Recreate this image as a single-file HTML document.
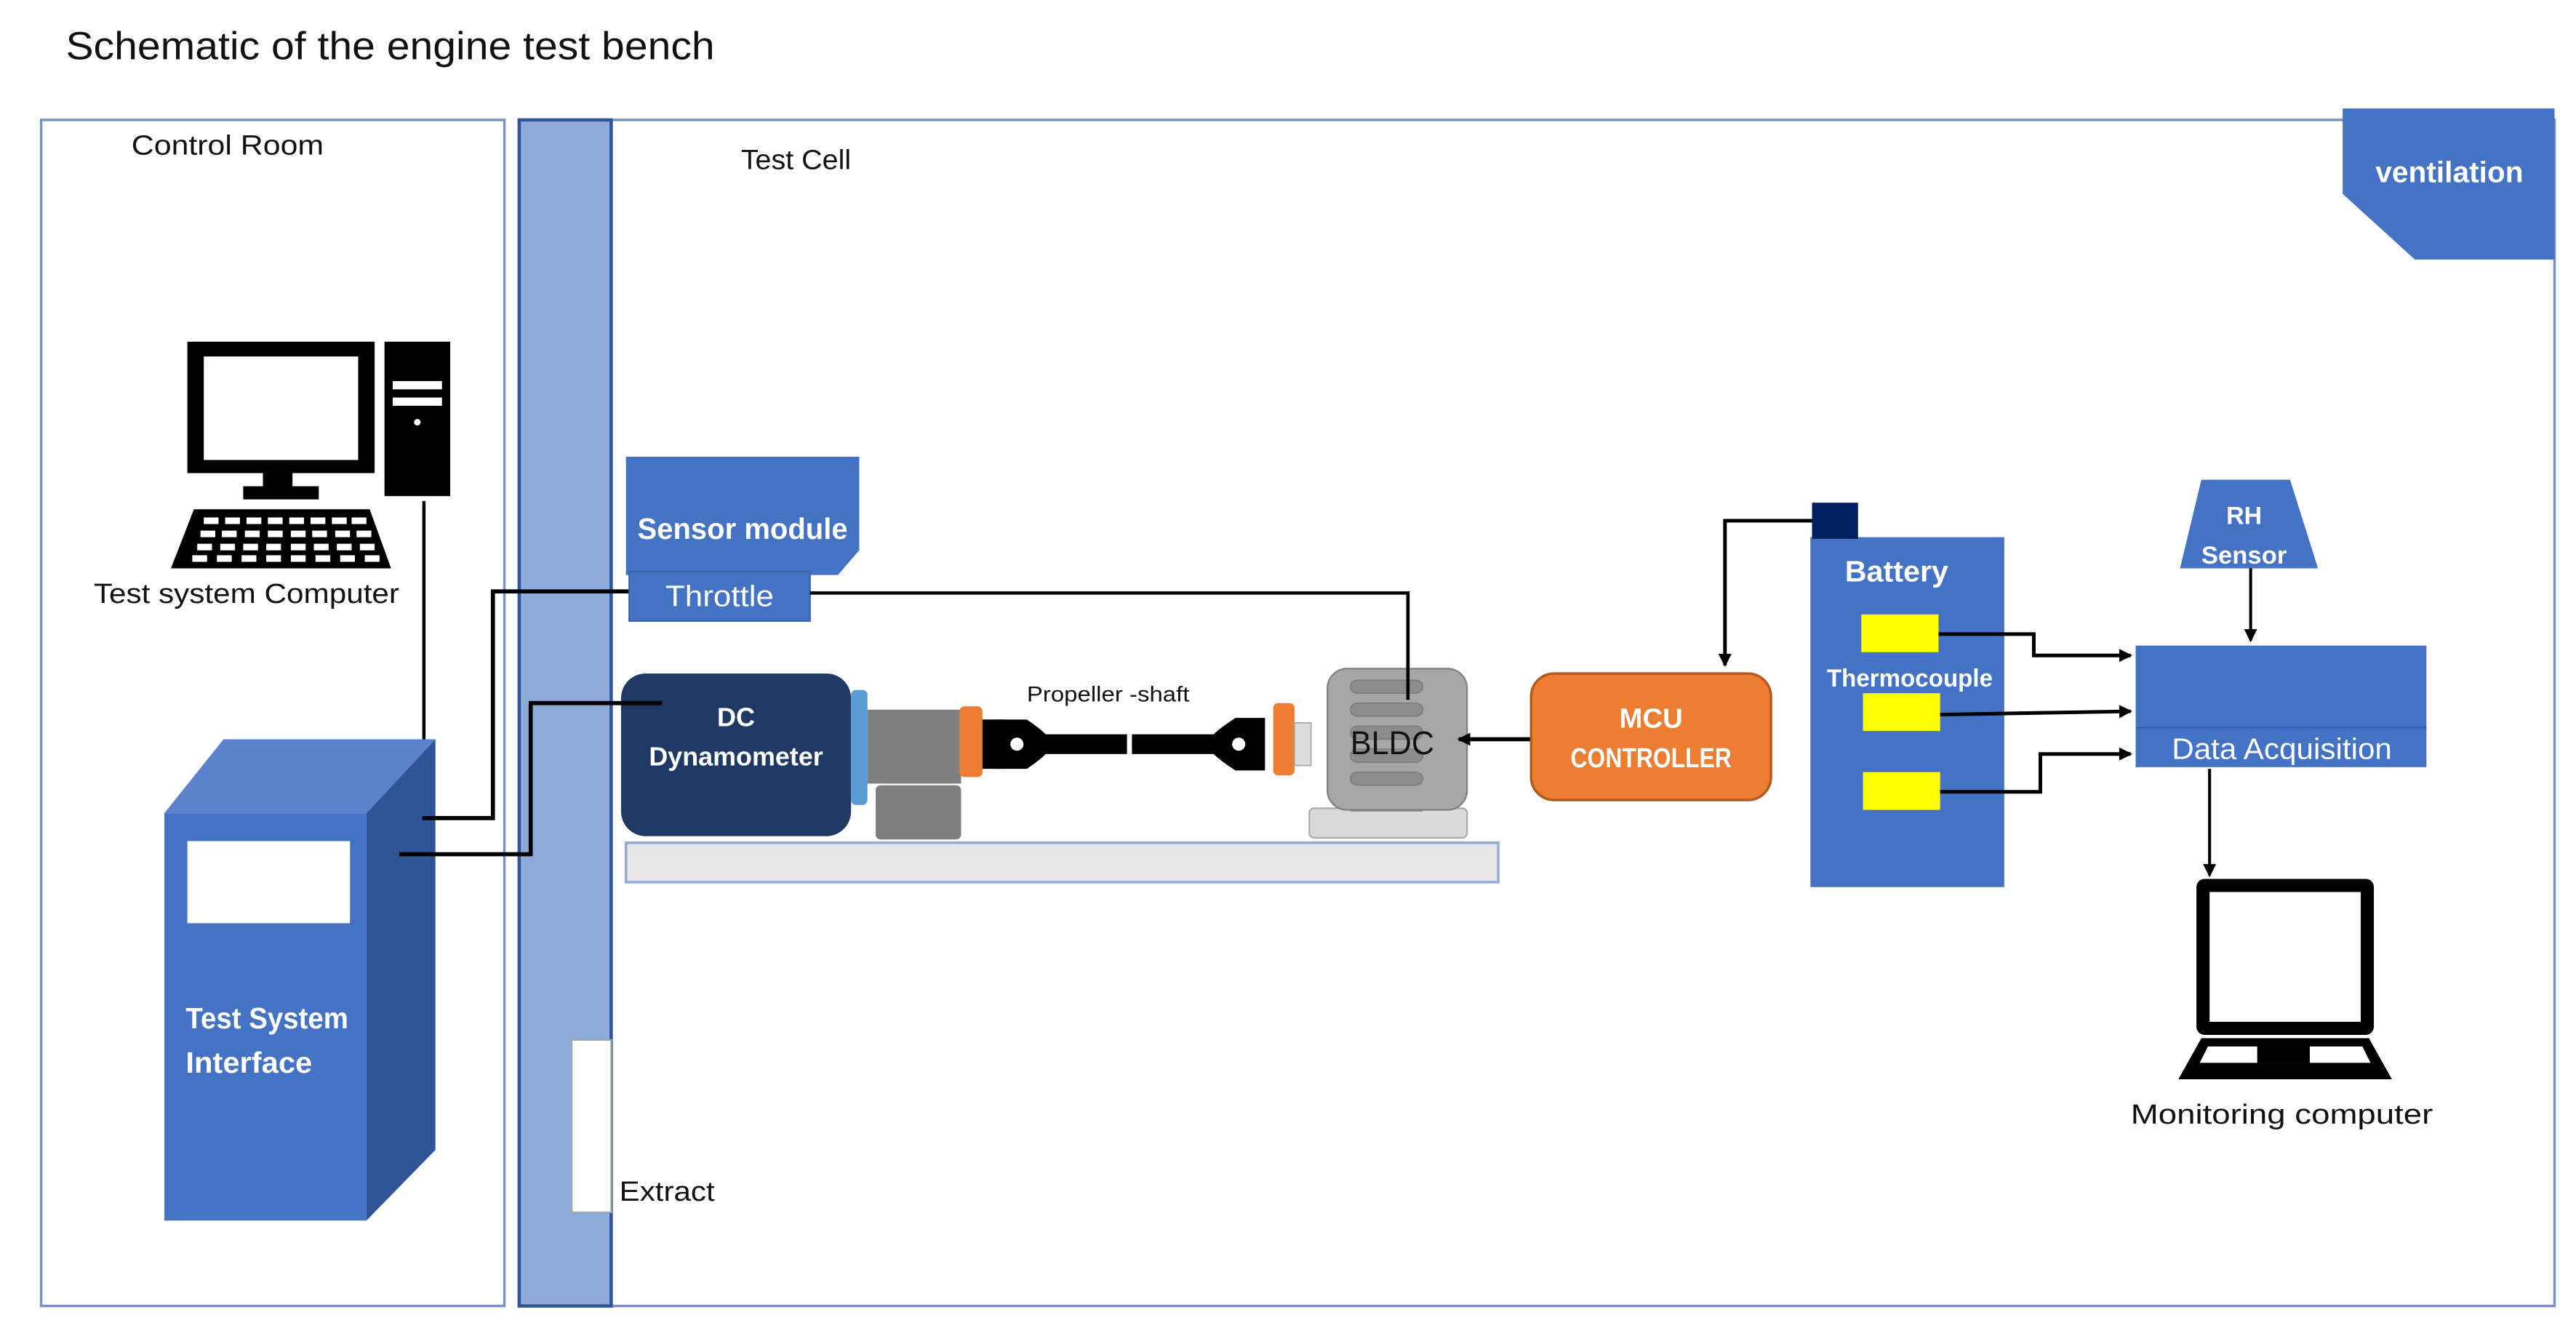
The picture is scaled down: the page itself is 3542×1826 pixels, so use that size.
<!DOCTYPE html>
<html><head><meta charset="utf-8"><style>
html,body{margin:0;padding:0;background:#fff;}
svg{display:block;}
text{font-family:"Liberation Sans",sans-serif;}
</style></head><body>
<svg width="3542" height="1826" viewBox="0 0 1568 808.4" xmlns="http://www.w3.org/2000/svg">
<defs>
<marker id="ar" markerWidth="8" markerHeight="8" refX="7" refY="4" orient="auto" markerUnits="userSpaceOnUse"><path d="M0,0 L8,4 L0,8 z" fill="#000"/></marker>
</defs>
<rect width="1568" height="808.4" fill="#fff"/>
<text x="40" y="36" font-size="24" fill="#111" textLength="395" lengthAdjust="spacingAndGlyphs">Schematic of the engine test bench</text>
<!-- rooms -->
<rect x="25" y="73" width="282" height="722" fill="none" stroke="#7491c9" stroke-width="1.5"/>
<rect x="372" y="73" width="1183" height="722" fill="none" stroke="#7491c9" stroke-width="1.5"/>
<rect x="316" y="73" width="56" height="722" fill="#8eaadb" stroke="#2f5597" stroke-width="2"/>
<text x="80" y="94" font-size="17" fill="#111" textLength="117" lengthAdjust="spacingAndGlyphs">Control Room</text>
<text x="451" y="103" font-size="17" fill="#111" textLength="67" lengthAdjust="spacingAndGlyphs">Test Cell</text>
<!-- ventilation -->
<polygon points="1426,66 1555,66 1555,158 1470,158 1426,118" fill="#4472c4"/>
<text x="1446" y="111" font-size="18" font-weight="bold" fill="#fff" textLength="90" lengthAdjust="spacingAndGlyphs">ventilation</text>
<!-- extract -->
<rect x="348" y="633" width="24" height="105" fill="#fff" stroke="#9aa" stroke-width="1"/>
<text x="377" y="731" font-size="17" fill="#111" textLength="58" lengthAdjust="spacingAndGlyphs">Extract</text>
<!-- desktop computer -->
<rect x="114" y="208" width="114" height="80" fill="#000"/>
<rect x="124" y="217" width="94" height="63" fill="#fff"/>
<rect x="160" y="288" width="18" height="10" fill="#000"/>
<rect x="148" y="296" width="46" height="8" fill="#000"/>
<rect x="234" y="208" width="40" height="94" fill="#000"/>
<rect x="239" y="232" width="30" height="5" fill="#fff"/>
<rect x="239" y="242" width="30" height="5" fill="#fff"/>
<circle cx="254" cy="257" r="2" fill="#fff"/>
<polygon points="118,310 225,310 238,346 104,346" fill="#000"/>
<g fill="#fff">
<rect x="124" y="315" width="9" height="4"/><rect x="137" y="315" width="9" height="4"/><rect x="150" y="315" width="9" height="4"/><rect x="163" y="315" width="9" height="4"/><rect x="176" y="315" width="9" height="4"/><rect x="189" y="315" width="9" height="4"/><rect x="202" y="315" width="9" height="4"/><rect x="214" y="315" width="9" height="4"/>
<rect x="122" y="323" width="9" height="4"/><rect x="135" y="323" width="9" height="4"/><rect x="149" y="323" width="9" height="4"/><rect x="163" y="323" width="9" height="4"/><rect x="177" y="323" width="9" height="4"/><rect x="190" y="323" width="9" height="4"/><rect x="204" y="323" width="9" height="4"/><rect x="217" y="323" width="9" height="4"/>
<rect x="120" y="331" width="9" height="4"/><rect x="134" y="331" width="9" height="4"/><rect x="148" y="331" width="9" height="4"/><rect x="162" y="331" width="9" height="4"/><rect x="177" y="331" width="9" height="4"/><rect x="191" y="331" width="9" height="4"/><rect x="205" y="331" width="9" height="4"/><rect x="219" y="331" width="9" height="4"/>
<rect x="117" y="338" width="9" height="4"/><rect x="132" y="338" width="9" height="4"/><rect x="147" y="338" width="9" height="4"/><rect x="162" y="338" width="9" height="4"/><rect x="177" y="338" width="9" height="4"/><rect x="192" y="338" width="9" height="4"/><rect x="207" y="338" width="9" height="4"/><rect x="222" y="338" width="9" height="4"/>
</g>
<text x="57" y="367" font-size="17" fill="#111" textLength="186" lengthAdjust="spacingAndGlyphs">Test system Computer</text>
<line x1="258" y1="305" x2="258" y2="458" stroke="#000" stroke-width="2"/>
<!-- test system interface -->
<polygon points="100,495 136,450 265,450 223,495" fill="#5b82cc"/>
<polygon points="223,495 265,450 265,700 223,743" fill="#2f5597"/>
<rect x="100" y="495" width="123" height="248" fill="#4472c4"/>
<rect x="114" y="512" width="99" height="50" fill="#fff"/>
<text x="113" y="626" font-size="18" font-weight="bold" fill="#fff" textLength="99" lengthAdjust="spacingAndGlyphs">Test System</text>
<text x="113" y="653" font-size="18" font-weight="bold" fill="#fff" textLength="77" lengthAdjust="spacingAndGlyphs">Interface</text>
<!-- connector lines -->
<polyline points="257,498 300,498 300,360 383,360" fill="none" stroke="#000" stroke-width="2.5"/>
<polyline points="243,520 323,520 323,428 403,428" fill="none" stroke="#000" stroke-width="2.5"/>
<!-- sensor module -->
<polygon points="381,278 523,278 523,335 510,350 381,350" fill="#4472c4"/>
<text x="388" y="328" font-size="18" font-weight="bold" fill="#fff" textLength="128" lengthAdjust="spacingAndGlyphs">Sensor module</text>
<rect x="383" y="348" width="110" height="30" fill="#4472c4" stroke="#3a62ad" stroke-width="1"/>
<text x="405" y="369" font-size="18" fill="#fff" textLength="66" lengthAdjust="spacingAndGlyphs">Throttle</text>
<polyline points="493,361 857,361 857,426" fill="none" stroke="#000" stroke-width="2"/>
<!-- bench -->
<rect x="381" y="513" width="531" height="24" fill="#e7e6e6" stroke="#8faadc" stroke-width="1.5"/>
<!-- dyno -->
<rect x="378" y="410" width="140" height="99" rx="15" fill="#1f3864"/>
<line x1="378" y1="428" x2="403" y2="428" stroke="#000" stroke-width="2.5"/>
<text x="448" y="442" font-size="16" font-weight="bold" fill="#fff" text-anchor="middle">DC</text>
<text x="448" y="466" font-size="16" font-weight="bold" fill="#fff" text-anchor="middle" textLength="106" lengthAdjust="spacingAndGlyphs">Dynamometer</text>
<rect x="518" y="420" width="10" height="70" rx="3" fill="#5b9bd5"/>
<rect x="528" y="432" width="57" height="45" fill="#7f7f7f"/>
<rect x="533" y="478" width="52" height="33" rx="3" fill="#7f7f7f"/>
<!-- shaft -->
<rect x="584" y="430" width="14" height="43" rx="3" fill="#ed7d31"/>
<rect x="598" y="438" width="14" height="30" fill="#000"/>
<path d="M605,438 L625,438 Q640,448 640,453 Q640,458 625,468 L605,468 z" fill="#000"/>
<circle cx="619" cy="453" r="4" fill="#fff"/>
<rect x="636" y="447" width="50" height="12" fill="#000"/>
<rect x="689" y="447" width="50" height="12" fill="#000"/>
<path d="M770,437 L752,437 Q735,448 735,453 Q735,458 752,469 L770,469 z" fill="#000"/>
<circle cx="754" cy="453" r="4" fill="#fff"/>
<rect x="775" y="428" width="13" height="44" rx="3" fill="#ed7d31"/>
<rect x="788" y="440" width="10" height="26" fill="#ddd" stroke="#aaa" stroke-width="0.8"/>
<text x="625" y="427" font-size="13" fill="#111" textLength="99" lengthAdjust="spacingAndGlyphs">Propeller -shaft</text>
<!-- BLDC -->
<rect x="797" y="492" width="96" height="18" rx="3" fill="#d9d9d9" stroke="#aaa" stroke-width="1"/>
<rect x="822" y="480" width="44" height="14" fill="#8a8a8a"/>
<rect x="808" y="407" width="85" height="86" rx="12" fill="#a6a6a6" stroke="#7f7f7f" stroke-width="1"/>
<g fill="#8c8c8c" stroke="#777" stroke-width="0.6">
<rect x="822" y="414" width="44" height="8" rx="4"/><rect x="822" y="428" width="44" height="8" rx="4"/><rect x="822" y="442" width="44" height="8" rx="4"/><rect x="822" y="456" width="44" height="8" rx="4"/><rect x="822" y="470" width="44" height="8" rx="4"/>
</g>
<line x1="857" y1="361" x2="857" y2="426" stroke="#000" stroke-width="2"/>
<text x="822" y="459" font-size="20" fill="#111" textLength="51" lengthAdjust="spacingAndGlyphs">BLDC</text>
<line x1="932" y1="450" x2="888" y2="450" stroke="#000" stroke-width="2.5" marker-end="url(#ar)"/>
<!-- MCU -->
<rect x="932" y="410" width="146" height="77" rx="14" fill="#ed7d31" stroke="#ae5a21" stroke-width="1.5"/>
<text x="1005" y="443" font-size="17" font-weight="bold" fill="#fff" text-anchor="middle">MCU</text>
<text x="1005" y="467" font-size="17" font-weight="bold" fill="#fff" text-anchor="middle" textLength="98" lengthAdjust="spacingAndGlyphs">CONTROLLER</text>
<!-- battery -->
<rect x="1102" y="327" width="118" height="213" fill="#4472c4"/>
<rect x="1103" y="306" width="28" height="22" fill="#002060"/>
<polyline points="1103,317 1050,317 1050,405" fill="none" stroke="#000" stroke-width="2.2" marker-end="url(#ar)"/>
<text x="1123" y="354" font-size="18" font-weight="bold" fill="#fff" textLength="63" lengthAdjust="spacingAndGlyphs">Battery</text>
<text x="1112" y="418" font-size="15" font-weight="bold" fill="#fff" textLength="101" lengthAdjust="spacingAndGlyphs">Thermocouple</text>
<rect x="1133" y="374" width="47" height="23" fill="#ffff00"/>
<rect x="1134" y="422" width="47" height="23" fill="#ffff00"/>
<rect x="1134" y="470" width="47" height="23" fill="#ffff00"/>
<polyline points="1180,386 1238,386 1238,399 1297,399" fill="none" stroke="#000" stroke-width="2.2" marker-end="url(#ar)"/>
<polyline points="1181,435 1297,433" fill="none" stroke="#000" stroke-width="2.2" marker-end="url(#ar)"/>
<polyline points="1181,482 1242,482 1242,459 1297,459" fill="none" stroke="#000" stroke-width="2.2" marker-end="url(#ar)"/>
<!-- DAQ -->
<rect x="1300" y="393" width="177" height="74" fill="#4472c4"/>
<line x1="1300" y1="443" x2="1477" y2="443" stroke="#3560b0" stroke-width="1.5"/>
<text x="1322" y="462" font-size="18" fill="#fff" textLength="134" lengthAdjust="spacingAndGlyphs">Data Acquisition</text>
<!-- RH -->
<polygon points="1340,292 1394,292 1411,346 1327,346" fill="#4472c4"/>
<text x="1366" y="319" font-size="15" font-weight="bold" fill="#fff" text-anchor="middle">RH</text>
<text x="1366" y="343" font-size="15" font-weight="bold" fill="#fff" text-anchor="middle" textLength="52" lengthAdjust="spacingAndGlyphs">Sensor</text>
<line x1="1370" y1="346" x2="1370" y2="390" stroke="#000" stroke-width="1.8" marker-end="url(#ar)"/>
<line x1="1345" y1="468" x2="1345" y2="533" stroke="#000" stroke-width="1.8" marker-end="url(#ar)"/>
<!-- laptop -->
<rect x="1337" y="535" width="108" height="95" rx="5" fill="#000"/>
<rect x="1345" y="543" width="92" height="79" fill="#fff"/>
<polygon points="1340,632 1442,632 1456,657 1326,657" fill="#000"/>
<polygon points="1344,637 1438,637 1443,647 1339,647" fill="#fff"/>
<rect x="1374" y="636" width="32" height="11" fill="#000"/>
<text x="1297" y="684" font-size="17" fill="#111" textLength="184" lengthAdjust="spacingAndGlyphs">Monitoring computer</text>
</svg>
</body></html>
